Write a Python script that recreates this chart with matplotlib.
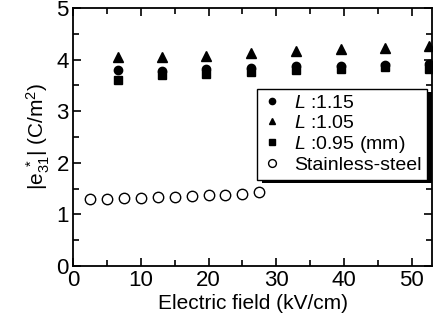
import matplotlib
matplotlib.use("Agg")
import matplotlib.pyplot as plt
import matplotlib.patheffects as pe
from matplotlib.ticker import MultipleLocator

plt.rcParams['font.family'] = ['Liberation Sans', 'DejaVu Sans']
plt.rcParams['mathtext.fontset'] = 'custom'
plt.rcParams['mathtext.rm'] = 'Liberation Sans'
plt.rcParams['mathtext.it'] = 'Liberation Sans:italic'

# data
field_pzt = [6.6, 13.1, 19.7, 26.3, 32.9, 39.5, 46.0, 52.5]
e31_115 = [3.79, 3.78, 3.81, 3.84, 3.87, 3.88, 3.89, 3.92]
e31_105 = [4.04, 4.04, 4.07, 4.12, 4.17, 4.21, 4.23, 4.27]
e31_095 = [3.60, 3.70, 3.72, 3.76, 3.79, 3.81, 3.85, 3.82]

field_ss = [2.5, 5.0, 7.5, 10.0, 12.5, 15.0, 17.5, 20.0, 22.5, 25.0, 27.5]
e31_ss = [1.30, 1.30, 1.31, 1.32, 1.33, 1.34, 1.36, 1.37, 1.38, 1.39, 1.44]

fig = plt.figure(figsize=(4.35, 3.3), dpi=100)
ax = fig.add_axes([0.168, 0.194, 0.825, 0.782])

ax.plot(field_pzt, e31_115, 'o', color='k', ms=6, label=r'$L$ :1.15')
ax.plot(field_pzt, e31_105, '^', color='k', ms=6.5, label=r'$L$ :1.05')
ax.plot(field_pzt, e31_095, 's', color='k', ms=5.5, label=r'$L$ :0.95 (mm)')
ax.plot(field_ss, e31_ss, 'o', mfc='white', mec='k', mew=1.0, ms=7.5,
        label='Stainless-steel')

ax.set_xlim(0, 53)
ax.set_ylim(0, 5)
ax.xaxis.set_major_locator(MultipleLocator(10))
ax.xaxis.set_minor_locator(MultipleLocator(5))
ax.yaxis.set_major_locator(MultipleLocator(1))
ax.yaxis.set_minor_locator(MultipleLocator(0.5))
ax.tick_params(which='both', direction='in', top=True, right=True,
               width=1.2, labelsize=16, pad=3)
ax.tick_params(which='major', length=6)
ax.tick_params(which='minor', length=4)
for s in ax.spines.values():
    s.set_linewidth(1.3)

ax.set_xlabel('Electric field (kV/cm)', fontsize=15, labelpad=2)
ax.set_ylabel(r'$|\mathrm{e}_{31}^{\ *}|$ (C/m$^{2}$)', fontsize=15, labelpad=3)

leg = ax.legend(loc='upper left', bbox_to_anchor=(0.513, 0.686), borderaxespad=0,
                fontsize=14, handlelength=1.0, handletextpad=0.6,
                labelspacing=0.1, borderpad=0.28, fancybox=False,
                framealpha=1, edgecolor='k', markerscale=0.75)
leg.get_frame().set_linewidth(1.0)
leg.get_frame().set_path_effects([
    pe.SimplePatchShadow(offset=(3.5, -2.5), shadow_rgbFace='k', alpha=1),
    pe.Normal()])

fig.savefig('out.png', dpi=100)
